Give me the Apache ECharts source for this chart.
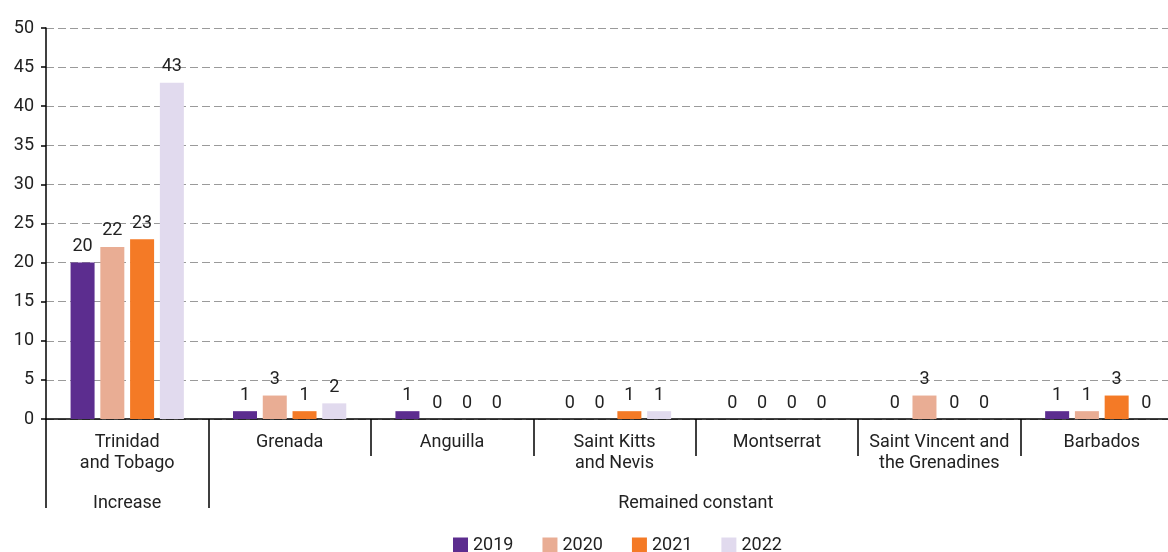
<!DOCTYPE html>
<html>
<head>
<meta charset="utf-8">
<script src="https://cdn.jsdelivr.net/npm/echarts@6/dist/echarts.min.js"></script>
<style>
html,body{margin:0;padding:0;background:#fff;}
#chart{width:1168px;height:552px;}
</style>
</head>
<body>
<div id="chart"></div>
<script>
const categories = ["Trinidad\nand Tobago", "Grenada", "Anguilla", "Saint Kitts\nand Nevis", "Montserrat", "Saint Vincent and\nthe Grenadines", "Barbados"];
const groups = ["Increase", "Remained constant"];
const groupBoundaries = [0, 1];
const groupLabelPositions = [0.5, 4];
const seriesNames = ["2019", "2020", "2021", "2022"];
const values2019 = [20, 1, 1, 0, 0, 0, 1];
const values2020 = [22, 3, 0, 0, 0, 3, 1];
const values2021 = [23, 1, 0, 1, 0, 0, 3];
const values2022 = [43, 2, 0, 1, 0, 0, 0];
const yTicks = [0, 5, 10, 15, 20, 25, 30, 35, 40, 45, 50];

const FONT = 'Roboto, "Liberation Sans", sans-serif';
const FS = 18;
const colors = ["#5c2d8f", "#e9ad94", "#f47a26", "#e1daee"];
const allValues = [values2019, values2020, values2021, values2022];

const chart = echarts.init(document.getElementById('chart'), null, {renderer: 'canvas'});
chart.setOption({
  animation: false,
  textStyle: {fontFamily: FONT},
  grid: {left: 46, width: 1137, top: 28, height: 391, containLabel: false, outerBoundsMode: 'none'},
  legend: {
    data: seriesNames,
    left: 453, top: 536, padding: 0,
    icon: 'rect', itemWidth: 15, itemHeight: 15, itemGap: 29,
    textStyle: {fontFamily: FONT, fontSize: FS, color: '#222'}
  },
  xAxis: [{
    type: 'category',
    data: categories,
    boundaryGap: true,
    axisLine: {show: true, lineStyle: {color: '#000', width: 1.5}},
    axisTick: {show: true, interval: 0, length: 37, lineStyle: {color: '#000', width: 1.5}},
    axisLabel: {interval: 0, margin: 13, fontFamily: FONT, fontSize: FS, lineHeight: 21, color: '#222'}
  }, {
    type: 'value',
    min: 0, max: categories.length,
    position: 'bottom',
    axisLine: {show: false},
    splitLine: {show: false},
    axisTick: {show: true, customValues: groupBoundaries, length: 89, lineStyle: {color: '#000', width: 1.5}},
    axisLabel: {
      customValues: groupLabelPositions, margin: 75, fontFamily: FONT, fontSize: FS, color: '#222',
      formatter: function (v) { return v === groupLabelPositions[0] ? groups[0] : groups[1]; }
    }
  }],
  yAxis: {
    type: 'value',
    min: yTicks[0], max: yTicks[yTicks.length - 1], interval: 5,
    axisLine: {show: true, lineStyle: {color: '#000', width: 1.5}},
    axisTick: {show: true, length: 5, lineStyle: {color: '#000', width: 1.5}},
    axisLabel: {margin: 12, fontFamily: FONT, fontSize: FS, color: '#222'},
    splitLine: {show: true, lineStyle: {color: '#9a9a9a', type: [8, 4], width: 1}}
  },
  series: seriesNames.map(function (name, i) {
    return {
      name: name,
      type: 'bar',
      xAxisIndex: 0,
      data: allValues[i],
      barWidth: 24,
      barGap: '24%',
      barCategoryGap: '31%',
      itemStyle: {color: colors[i]},
      label: {show: true, position: 'top', distance: 7, fontFamily: FONT, fontSize: FS, color: '#222'}
    };
  })
});
</script>
</body>
</html>
